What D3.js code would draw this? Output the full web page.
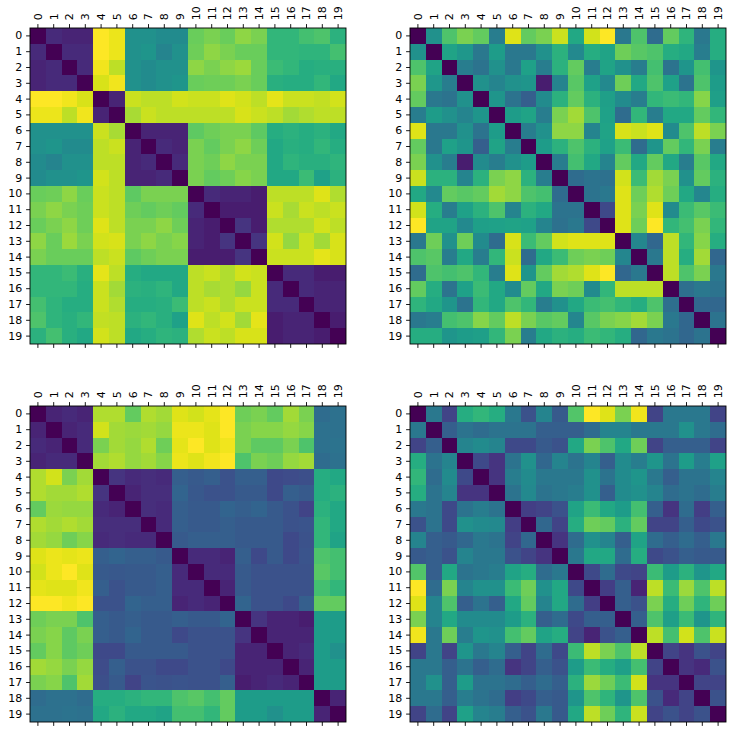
<!DOCTYPE html>
<html>
<head>
<meta charset="utf-8">
<script src="https://cdn.jsdelivr.net/npm/d3@7"></script>
<style>
  body { margin: 0; background: #fff; }
  text { font-family: "DejaVu Sans", sans-serif; font-size: 11px; fill: #000; }
</style>
</head>
<body>
<svg id="chart" width="734" height="734"></svg>
<script>
'use strict';

const tickLabels = ["0","1","2","3","4","5","6","7","8","9","10","11","12","13","14","15","16","17","18","19"];

// upper triangles (row i holds columns i+1..19), diagonal is 0
const upperTopLeft = [
  [0.12,0.10,0.10,1.00,0.97,0.50,0.50,0.48,0.48,0.77,0.80,0.77,0.83,0.80,0.66,0.66,0.70,0.72,0.64],
  [0.12,0.12,1.00,0.97,0.50,0.52,0.45,0.50,0.78,0.83,0.80,0.77,0.77,0.66,0.66,0.65,0.65,0.70],
  [0.12,0.98,0.90,0.50,0.48,0.50,0.50,0.83,0.80,0.83,0.85,0.77,0.68,0.66,0.62,0.63,0.63],
  [0.94,0.98,0.50,0.48,0.50,0.52,0.77,0.78,0.78,0.80,0.77,0.63,0.62,0.62,0.66,0.60],
  [0.10,0.92,0.90,0.90,0.93,0.92,0.92,0.95,0.93,0.90,0.96,0.92,0.92,0.91,0.93],
  [0.87,0.92,0.90,0.90,0.90,0.90,0.90,0.94,0.92,0.90,0.86,0.88,0.90,0.90],
  [0.10,0.10,0.10,0.75,0.78,0.80,0.80,0.75,0.62,0.64,0.62,0.64,0.60],
  [0.12,0.10,0.80,0.76,0.80,0.83,0.78,0.60,0.63,0.62,0.66,0.62],
  [0.12,0.80,0.78,0.83,0.80,0.80,0.60,0.65,0.63,0.63,0.65],
  [0.80,0.76,0.78,0.82,0.80,0.60,0.60,0.68,0.57,0.64],
  [0.12,0.10,0.10,0.08,0.90,0.90,0.90,0.95,0.88],
  [0.08,0.08,0.08,0.92,0.87,0.92,0.90,0.92],
  [0.15,0.08,0.88,0.88,0.88,0.93,0.90],
  [0.15,0.93,0.84,0.92,0.86,0.94],
  [0.92,0.92,0.92,0.96,0.94],
  [0.12,0.12,0.08,0.08],
  [0.12,0.10,0.10],
  [0.10,0.10],
  [0.08]
];

const upperTopRight = [
  [0.50,0.72,0.80,0.76,0.42,0.95,0.76,0.80,0.92,0.60,0.93,1.00,0.40,0.72,0.35,0.76,0.65,0.40,0.62],
  [0.58,0.53,0.40,0.55,0.40,0.40,0.50,0.64,0.47,0.62,0.58,0.78,0.74,0.72,0.62,0.60,0.42,0.62],
  [0.42,0.38,0.50,0.40,0.57,0.42,0.64,0.76,0.42,0.58,0.50,0.42,0.70,0.38,0.52,0.70,0.52],
  [0.50,0.45,0.50,0.52,0.08,0.45,0.74,0.57,0.47,0.78,0.60,0.72,0.57,0.38,0.72,0.55],
  [0.52,0.38,0.30,0.48,0.64,0.76,0.64,0.56,0.48,0.42,0.66,0.68,0.66,0.82,0.56],
  [0.55,0.58,0.42,0.80,0.86,0.72,0.57,0.35,0.66,0.42,0.60,0.60,0.76,0.66],
  [0.42,0.50,0.83,0.83,0.45,0.58,0.94,0.92,0.95,0.48,0.72,0.90,0.80],
  [0.55,0.64,0.72,0.64,0.57,0.68,0.35,0.52,0.76,0.66,0.80,0.42],
  [0.42,0.70,0.60,0.45,0.76,0.60,0.76,0.60,0.42,0.74,0.60],
  [0.35,0.38,0.37,0.93,0.68,0.86,0.80,0.50,0.76,0.64],
  [0.38,0.40,0.95,0.78,0.88,0.78,0.60,0.46,0.62],
  [0.22,0.95,0.80,0.95,0.48,0.68,0.74,0.68],
  [0.95,0.78,1.00,0.66,0.70,0.80,0.66],
  [0.46,0.33,0.90,0.66,0.82,0.62],
  [0.40,0.90,0.62,0.86,0.33],
  [0.90,0.72,0.80,0.40],
  [0.36,0.40,0.38],
  [0.33,0.33],
  [0.38]
];

const upperBottomLeft = [
  [0.10,0.12,0.10,0.88,0.88,0.76,0.88,0.86,0.95,0.93,0.96,1.00,0.78,0.80,0.76,0.86,0.80,0.35,0.37],
  [0.10,0.12,0.93,0.86,0.85,0.86,0.84,0.97,0.97,0.95,1.00,0.80,0.82,0.82,0.84,0.82,0.37,0.37],
  [0.12,0.80,0.86,0.84,0.88,0.78,0.96,1.00,0.95,0.98,0.80,0.75,0.75,0.80,0.72,0.37,0.38],
  [0.86,0.88,0.84,0.86,0.82,0.97,0.95,0.98,1.00,0.72,0.80,0.78,0.84,0.86,0.35,0.37],
  [0.15,0.12,0.13,0.12,0.30,0.28,0.30,0.25,0.30,0.30,0.22,0.23,0.24,0.62,0.60],
  [0.10,0.13,0.13,0.32,0.27,0.25,0.25,0.28,0.28,0.22,0.30,0.28,0.62,0.64],
  [0.13,0.12,0.30,0.28,0.28,0.32,0.30,0.32,0.28,0.25,0.20,0.64,0.60],
  [0.12,0.30,0.28,0.28,0.30,0.28,0.28,0.28,0.25,0.26,0.66,0.60],
  [0.28,0.30,0.30,0.30,0.28,0.28,0.28,0.22,0.25,0.66,0.58],
  [0.12,0.12,0.10,0.30,0.22,0.28,0.22,0.26,0.72,0.70],
  [0.12,0.12,0.28,0.25,0.25,0.25,0.25,0.74,0.70],
  [0.10,0.28,0.25,0.25,0.25,0.25,0.70,0.66],
  [0.32,0.25,0.25,0.22,0.30,0.76,0.76],
  [0.15,0.10,0.10,0.08,0.55,0.55],
  [0.10,0.10,0.10,0.55,0.55],
  [0.10,0.12,0.55,0.50],
  [0.10,0.55,0.55],
  [0.55,0.55],
  [0.10]
];

const upperBottomRight = [
  [0.40,0.20,0.62,0.66,0.62,0.40,0.25,0.45,0.28,0.73,1.00,0.95,0.80,0.98,0.20,0.40,0.40,0.40,0.20],
  [0.30,0.38,0.35,0.38,0.38,0.38,0.30,0.30,0.30,0.35,0.45,0.45,0.40,0.40,0.40,0.50,0.40,0.35],
  [0.45,0.48,0.45,0.22,0.22,0.28,0.25,0.60,0.80,0.72,0.60,0.78,0.20,0.30,0.30,0.30,0.20],
  [0.22,0.15,0.38,0.50,0.33,0.45,0.38,0.45,0.30,0.48,0.42,0.52,0.38,0.55,0.42,0.57],
  [0.15,0.42,0.48,0.40,0.40,0.40,0.50,0.38,0.48,0.52,0.40,0.30,0.38,0.38,0.45],
  [0.38,0.47,0.38,0.40,0.42,0.50,0.30,0.48,0.50,0.45,0.35,0.38,0.35,0.42],
  [0.18,0.20,0.25,0.58,0.68,0.60,0.55,0.70,0.30,0.15,0.35,0.18,0.30],
  [0.33,0.20,0.62,0.78,0.76,0.64,0.76,0.20,0.20,0.30,0.22,0.25],
  [0.15,0.35,0.50,0.45,0.30,0.58,0.35,0.30,0.35,0.30,0.40],
  [0.40,0.60,0.60,0.35,0.62,0.22,0.25,0.30,0.28,0.28],
  [0.22,0.35,0.22,0.20,0.68,0.55,0.64,0.52,0.60],
  [0.18,0.30,0.10,0.90,0.68,0.85,0.72,0.90],
  [0.30,0.25,0.80,0.62,0.78,0.65,0.78],
  [0.30,0.72,0.56,0.68,0.52,0.65],
  [0.90,0.70,0.93,0.72,0.92],
  [0.20,0.15,0.25,0.20],
  [0.15,0.12,0.25],
  [0.20,0.20],
  [0.25]
];

const panels = [
  {upper: upperTopLeft, x: 30, y: 28},
  {upper: upperTopRight, x: 410, y: 28},
  {upper: upperBottomLeft, x: 30, y: 406},
  {upper: upperBottomRight, x: 410, y: 406}
];

const panelSize = 316;
const tickLen = 3.9;
const svg = d3.select("#chart");

function fullMatrix(upper) {
  const n = tickLabels.length;
  const cells = [];
  for (let i = 0; i < n; i++) {
    for (let j = 0; j < n; j++) {
      let v = 0;
      if (i < j) v = upper[i][j - i - 1];
      if (i > j) v = upper[j][i - j - 1];
      cells.push({row: i, col: j, value: v});
    }
  }
  return cells;
}

panels.forEach(function (p) {
  const cells = fullMatrix(p.upper);

  const xScale = d3.scaleBand().domain(tickLabels).range([0, panelSize]);
  const yScale = d3.scaleBand().domain(tickLabels).range([0, panelSize]);
  const color = d3.scaleSequential(d3.interpolateViridis)
    .domain(d3.extent(cells, d => d.value));

  const g = svg.append("g")
    .attr("transform", `translate(${p.x}, ${p.y})`);

  g.append("g")
    .selectAll("rect")
    .data(cells)
    .join("rect")
    .attr("x", d => xScale(tickLabels[d.col]))
    .attr("y", d => yScale(tickLabels[d.row]))
    .attr("width", xScale.bandwidth() + 0.3)
    .attr("height", yScale.bandwidth() + 0.3)
    .attr("fill", d => color(d.value))
    .attr("shape-rendering", "crispEdges");

  // top axis, labels rotated
  const topAxis = g.append("g")
    .call(d3.axisTop(xScale).tickSize(tickLen).tickPadding(3.9));
  topAxis.selectAll("text")
    .attr("transform", "rotate(-90)")
    .attr("text-anchor", "start")
    .attr("x", 7.8)
    .attr("y", 0)
    .attr("dy", "0.35em");

  // bottom ticks only
  g.append("g")
    .attr("transform", `translate(0, ${panelSize})`)
    .call(d3.axisBottom(xScale).tickSize(tickLen).tickFormat(""));

  // left axis
  g.append("g")
    .call(d3.axisLeft(yScale).tickSize(tickLen).tickPadding(3.9));

  g.selectAll(".domain").remove();
  g.selectAll(".tick line").attr("stroke", "#000").attr("stroke-width", 0.9);
  g.selectAll(".tick text").style("font-size", "11px").style("font-family", "DejaVu Sans");

  g.append("rect")
    .attr("x", 0)
    .attr("y", 0)
    .attr("width", panelSize)
    .attr("height", panelSize)
    .attr("fill", "none")
    .attr("stroke", "#000")
    .attr("stroke-width", 0.9);
});
</script>
</body>
</html>
